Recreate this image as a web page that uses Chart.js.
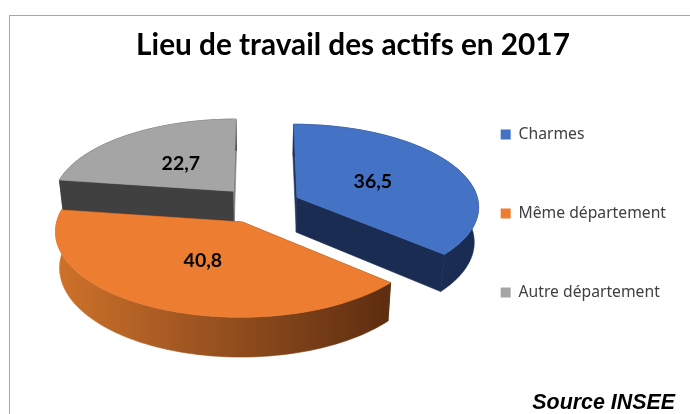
<!DOCTYPE html>
<html lang="fr">
<head>
<meta charset="utf-8">
<title>Lieu de travail des actifs en 2017</title>
<script src="https://cdn.jsdelivr.net/npm/chart.js@4"></script>
<style>
html,body{margin:0;padding:0;background:#fff;overflow:hidden;width:690px;height:414px}
#frame{position:absolute;left:9px;top:15px;width:688px;height:399px;border-left:1px solid #a6a6a6;border-top:1px solid #a6a6a6;box-sizing:border-box}
#frame canvas{position:absolute;left:-1px;top:-1px}
</style>
</head>
<body>
<div id="frame"><canvas id="c" width="688" height="399"></canvas></div>
<script>
const categories = ["Charmes", "Même département", "Autre département"];
const values = [36.5, 40.8, 22.7];
const valueLabels = ["36,5", "40,8", "22,7"];
const topColors = ["#4472c4", "#ed7d31", "#a5a5a5"];
const wallColors = ["#1a2c52", "#8a4a1c", "#404040"];
const startWallColors = ["#1f3560", "#5e2e10", "#404040"];
const endWallColors = ["#1a2c52", "#5e2e10", "#7f7f7f"];
const chartTitle = "Lieu de travail des actifs en 2017";
const sourceText = "Source INSEE";

/* perspective view of the pie (canvas pixels; canvas sits at 9,15) */
const view = {vx: 251, vy: 190, rx: 182, ry: 82, persp: 0.1, depth: 35, shrink: 0.98, labelAt: 0.475};
const drawOrder = [2, 0, 1];

function project(u, v, lower) {
  const k = 1 / (1 - view.persp * v);
  let x = view.rx * u * k;
  const y = (view.ry * v + (lower ? view.depth : 0)) * k;
  if (lower) x *= view.shrink;
  return [view.vx + x, view.vy + y];
}
function sample(a0, a1, ou, ov, lower) {
  const pts = [], n = 80;
  for (let i = 0; i <= n; i++) {
    const a = a0 + (a1 - a0) * i / n;
    pts.push(project(ou + Math.cos(a), ov + Math.sin(a), lower));
  }
  return pts;
}
function poly(ctx, pts, fill) {
  ctx.beginPath();
  pts.forEach((p, i) => i ? ctx.lineTo(p[0], p[1]) : ctx.moveTo(p[0], p[1]));
  ctx.closePath();
  ctx.fillStyle = fill;
  ctx.strokeStyle = fill;
  ctx.lineWidth = 0.6;
  ctx.fill();
  ctx.stroke();
}
const pie3d = {
  id: "pie3d",
  beforeDatasetsDraw(chart) {
    const ctx = chart.ctx, arcs = chart.getDatasetMeta(0).data;
    ctx.save();
    drawOrder.forEach(i => {
      const el = arcs[i];
      const a0 = el.startAngle, a1 = el.endAngle, mid = (a0 + a1) / 2;
      const off = el.options.offset / el.outerRadius;
      const ou = off * Math.cos(mid), ov = off * Math.sin(mid);
      const topRim = sample(a0, a1, ou, ov, false);
      const lowRim = sample(a0, a1, ou, ov, true);
      const apexT = project(ou, ov, false), apexL = project(ou, ov, true);
      const n = topRim.length - 1;
      /* radial walls */
      poly(ctx, [apexT, topRim[0], lowRim[0], apexL], startWallColors[i]);
      poly(ctx, [apexT, topRim[n], lowRim[n], apexL], endWallColors[i]);
      /* outer wall */
      let fill = wallColors[i];
      if (i === 1) {
        const g = ctx.createLinearGradient(view.vx - 205, 0, view.vx + 125, 0);
        g.addColorStop(0, "#cf722a");
        g.addColorStop(0.5, "#96501f");
        g.addColorStop(1, "#5e2e10");
        fill = g;
      }
      poly(ctx, topRim.concat(lowRim.slice().reverse()), fill);
      /* top face */
      poly(ctx, [apexT].concat(topRim), topColors[i]);
    });
    /* value labels */
    ctx.font = "bold 19.5px Lato, sans-serif";
    ctx.fillStyle = "#000";
    ctx.textAlign = "center";
    ctx.textBaseline = "middle";
    arcs.forEach((el, i) => {
      const mid = (el.startAngle + el.endAngle) / 2;
      const off = el.options.offset / el.outerRadius + view.labelAt;
      const p = project(off * Math.cos(mid), off * Math.sin(mid), false);
      ctx.fillText(valueLabels[i], p[0], p[1]);
    });
    ctx.restore();
    return false;
  },
  afterDraw(chart) {
    const ctx = chart.ctx;
    ctx.save();
    ctx.font = "italic bold 21.4px 'Liberation Sans', Arial, sans-serif";
    ctx.fillStyle = "#000";
    ctx.textAlign = "right";
    ctx.textBaseline = "middle";
    ctx.fillText(sourceText, 666, 388);
    ctx.restore();
  }
};

new Chart(document.getElementById("c"), {
  type: "pie",
  data: {
    labels: categories,
    datasets: [{data: values, backgroundColor: topColors, borderWidth: 0, radius: 100, offset: 22.5}]
  },
  options: {
    responsive: false,
    animation: false,
    layout: {padding: {left: 21, right: 21, bottom: 2}},
    plugins: {
      tooltip: {enabled: false},
      title: {
        display: true, text: chartTitle, color: "#000",
        font: {family: "Lato, sans-serif", size: 29.75, weight: "bold"},
        padding: {top: 13, bottom: 12}
      },
      legend: {
        position: "right", align: "center",
        labels: {
          boxWidth: 10, boxHeight: 10, padding: 63.3, color: "#404040",
          font: {family: "'Noto Sans', sans-serif", size: 15.7}
        }
      }
    }
  },
  plugins: [pie3d]
});
</script>
</body>
</html>
